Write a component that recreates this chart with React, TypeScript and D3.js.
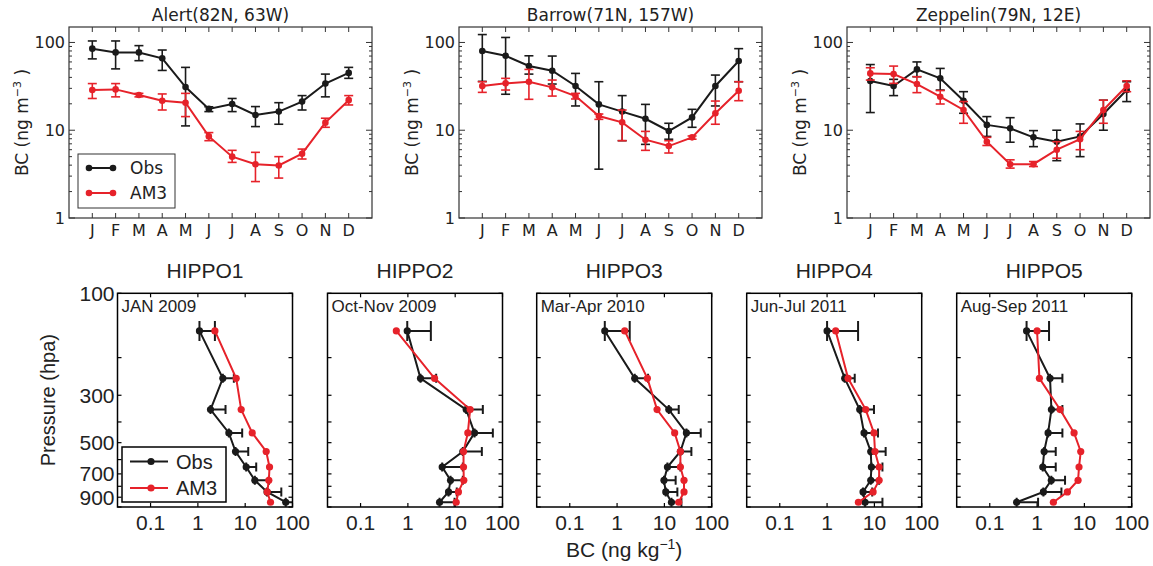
import React, { useEffect, useRef } from "react";
import * as d3 from "d3";

// ---- top row: monthly surface BC (ng m-3) ----
const months = ["J", "F", "M", "A", "M", "J", "J", "A", "S", "O", "N", "D"];

const alertObs = [85, 77, 77, 66, 31, 17.5, 19.9, 14.9, 16.3, 21.2, 34, 45];
const alertObsLo = [65, 50, 62, 48, 11.2, 16.3, 16.3, 11, 11.7, 17, 24, 39];
const alertObsHi = [104, 104, 92, 82, 52, 18.5, 23, 18.6, 20.6, 24.8, 43.6, 52];
const alertAm3 = [28.7, 29.2, 25.2, 21.7, 20.6, 8.5, 5.0, 4.1, 3.97, 5.4, 12.2, 22];
const alertAm3Lo = [23, 24, 24, 17, 14.3, 7.6, 4.3, 2.6, 2.85, 4.7, 10.8, 19.4];
const alertAm3Hi = [34, 34, 26.3, 25.9, 26.3, 9.4, 5.9, 5.6, 5.0, 6.1, 13.7, 24.8];

const barrowObs = [80, 70.5, 54, 47.6, 31.9, 19.7, 16.3, 13.5, 9.8, 14, 31.9, 61.4];
const barrowObsLo = [36, 25.7, 43.6, 33.6, 18.9, 3.6, 7.6, 6.9, 7.9, 10.8, 18.9, 35.7];
const barrowObsHi = [123, 114, 70.5, 70, 44.4, 35.7, 24.8, 19.7, 12, 17.3, 42.5, 85];
const barrowAm3 = [31.9, 34.2, 35.7, 30.8, 24.5, 14.5, 12.3, 7.8, 6.6, 8.3, 15.6, 28.2];
const barrowAm3Lo = [27, 28.7, 22.5, 24.5, 22.7, 13.3, 7.6, 5.9, 5.5, 7.9, 11.7, 21.7];
const barrowAm3Hi = [35.7, 39, 49.3, 37.3, 26.3, 15.3, 17, 9.7, 7.6, 8.6, 21.5, 35.7];

const zeppObs = [36.4, 31.9, 49.3, 39, 21.7, 11.5, 10.5, 8.3, 7.4, 8.5, 15.3, 28.7];
const zeppObsLo = [15.9, 24.8, 40.7, 28.7, 15.6, 8.5, 7.3, 6.5, 4.5, 5.0, 10, 21.2];
const zeppObsHi = [56, 38, 60, 50.6, 27.5, 14.3, 13.9, 9.9, 10, 11.8, 22, 35.7];
const zeppAm3 = [44.4, 43.6, 33.6, 24.1, 17, 7.4, 4.1, 4.1, 6.0, 7.9, 17, 31.9];
const zeppAm3Lo = [37.3, 34.2, 26.8, 19.9, 12, 6.7, 3.7, 3.86, 4.8, 6.0, 12, 27.5];
const zeppAm3Hi = [51.5, 53.8, 40.7, 28.3, 21.2, 8.3, 4.6, 4.4, 7.4, 9.7, 22, 36.6];

const yTopTicks = [1, 10, 100];

// ---- bottom row: HIPPO profiles (ng kg-1) ----
const levels = [150, 250, 350, 450, 550, 650, 750, 850, 950];
const pressureLabels = [100, 300, 500, 700, 900];
const bcTicks = [0.1, 1, 10, 100];

const hippo1Obs = [1.08, 3.37, 1.85, 4.52, 6.25, 10.5, 16, 29, 72];
const hippo1ObsHi = [2.29, 5.76, 3.84, 8.64, 11.6, 17.1, 31.7, 58, 140];
const hippo1Am3 = [2.29, 6.45, 8.23, 14.1, 27.8, 32.7, 31.6, 29.2, 34.3];

const hippo2Obs = [0.97, 1.85, 17.1, 25.6, 14.5, 5.31, 7.97, 7.23, 4.67];
const hippo2ObsHi = [3.06, 3.96, 38.4, 62.5, 36.6, 14.5, 14.5, 10.8, 9.7];
const hippo2Am3 = [0.57, 3.66, 20.7, 18.5, 15, 15, 15.2, 11.7, 10.5];

const hippo3Obs = [0.55, 2.36, 12.4, 29.2, 21.8, 11.6, 9.8, 10.7, 14.1];
const hippo3ObsHi = [1.85, 4.52, 20.1, 58.6, 37.2, 21.8, 17.3, 18.8, 22.9];
const hippo3Am3 = [1.45, 4.37, 7.0, 16.5, 21.8, 21.8, 26, 26, 20.1];

const hippo4Obs = [1.0, 2.36, 4.9, 6.05, 8.37, 8.65, 8.37, 5.76, 6.35];
const hippo4ObsHi = [4.52, 3.84, 9.8, 11.9, 17.3, 14.8, 12.6, 9, 14.8];
const hippo4Am3 = [1.52, 2.78, 6.56, 9.8, 10.3, 12.6, 12.6, 9.4, 4.59];

const hippo5Obs = [0.6, 1.88, 2.01, 1.71, 1.41, 1.32, 2.0, 1.36, 0.37];
const hippo5ObsHi = [1.79, 3.43, 3.43, 3.43, 2.48, 2.48, 3.9, 3.27, 1.05];
const hippo5Am3 = [1.0, 1.12, 3.06, 6.05, 8.37, 7.7, 7.35, 4.37, 2.21];

const BLACK = "#1a1a1a";
const RED = "#e6222a";
const TOP_FONT = "DejaVu Sans, sans-serif";
const BOT_FONT = "Liberation Sans, Arial, Helvetica, sans-serif";

const stations = [
  { title: "Alert(82N, 63W)", obs: alertObs, obsLo: alertObsLo, obsHi: alertObsHi, am3: alertAm3, am3Lo: alertAm3Lo, am3Hi: alertAm3Hi },
  { title: "Barrow(71N, 157W)", obs: barrowObs, obsLo: barrowObsLo, obsHi: barrowObsHi, am3: barrowAm3, am3Lo: barrowAm3Lo, am3Hi: barrowAm3Hi },
  { title: "Zeppelin(79N, 12E)", obs: zeppObs, obsLo: zeppObsLo, obsHi: zeppObsHi, am3: zeppAm3, am3Lo: zeppAm3Lo, am3Hi: zeppAm3Hi },
];

const campaigns = [
  { title: "HIPPO1", period: "JAN 2009", obs: hippo1Obs, obsHi: hippo1ObsHi, am3: hippo1Am3 },
  { title: "HIPPO2", period: "Oct-Nov 2009", obs: hippo2Obs, obsHi: hippo2ObsHi, am3: hippo2Am3 },
  { title: "HIPPO3", period: "Mar-Apr 2010", obs: hippo3Obs, obsHi: hippo3ObsHi, am3: hippo3Am3 },
  { title: "HIPPO4", period: "Jun-Jul 2011", obs: hippo4Obs, obsHi: hippo4ObsHi, am3: hippo4Am3 },
  { title: "HIPPO5", period: "Aug-Sep 2011", obs: hippo5Obs, obsHi: hippo5ObsHi, am3: hippo5Am3 },
];

const W = 1153;
const H = 566;

const App = () => {
  const svgRef = useRef(null);

  useEffect(() => {
    const svg = d3.select(svgRef.current);
    svg.selectAll("*").remove();
    svg.append("rect").attr("width", W).attr("height", H).attr("fill", "white");
    const defs = svg.append("defs");

    // ===== top row =====
    const topLefts = [69, 459, 847];
    const tW = 303;
    const tTop = 27;
    const tBot = 218;

    stations.forEach((st, si) => {
      const left = topLefts[si];
      const g = svg.append("g");
      const x = d3.scaleLinear().domain([0, 13]).range([left, left + tW]);
      const y = d3.scaleLog().domain([1, 150]).range([tBot, tTop]);

      // y ticks (major + minor), both sides
      yTopTicks.forEach((d) => {
        for (let k = 1; k <= 9; k++) {
          const v = d * k;
          if (v > 150) continue;
          const len = k === 1 ? 6 : 3;
          g.append("line").attr("x1", left).attr("x2", left + len)
            .attr("y1", y(v)).attr("y2", y(v)).attr("stroke", "#333").attr("stroke-width", 1);
          g.append("line").attr("x1", left + tW - len).attr("x2", left + tW)
            .attr("y1", y(v)).attr("y2", y(v)).attr("stroke", "#333").attr("stroke-width", 1);
        }
        g.append("text").attr("x", left - 4).attr("y", y(d)).attr("dy", "0.36em")
          .attr("text-anchor", "end").attr("font-family", TOP_FONT).attr("font-size", 16)
          .attr("fill", "#222").text(d);
      });

      // x ticks + month labels
      months.forEach((m, i) => {
        const xx = x(i + 1);
        g.append("line").attr("x1", xx).attr("x2", xx).attr("y1", tBot).attr("y2", tBot - 5)
          .attr("stroke", "#333").attr("stroke-width", 1);
        g.append("line").attr("x1", xx).attr("x2", xx).attr("y1", tTop).attr("y2", tTop + 5)
          .attr("stroke", "#333").attr("stroke-width", 1);
        g.append("text").attr("x", xx).attr("y", 236).attr("text-anchor", "middle")
          .attr("font-family", TOP_FONT).attr("font-size", 16).attr("fill", "#222").text(m);
      });

      g.append("rect").attr("x", left).attr("y", tTop).attr("width", tW).attr("height", tBot - tTop)
        .attr("fill", "none").attr("stroke", "#333").attr("stroke-width", 1.2);

      // title
      g.append("text").attr("x", left + tW / 2).attr("y", 21).attr("text-anchor", "middle")
        .attr("font-family", TOP_FONT).attr("font-size", 17).attr("fill", "#222").text(st.title);

      // y label
      const yl = g.append("text")
        .attr("transform", `translate(${left - 41},${(tTop + tBot) / 2}) rotate(-90)`)
        .attr("text-anchor", "middle").attr("font-family", TOP_FONT).attr("font-size", 17)
        .attr("fill", "#222");
      yl.append("tspan").text("BC (ng m");
      yl.append("tspan").attr("dy", -7).attr("font-size", 11).text("\u22123");
      yl.append("tspan").attr("dy", 7).text(" )");

      const series = [
        { v: st.obs, lo: st.obsLo, hi: st.obsHi, c: BLACK },
        { v: st.am3, lo: st.am3Lo, hi: st.am3Hi, c: RED },
      ];
      series.forEach((s) => {
        const sg = g.append("g");
        s.v.forEach((_, i) => {
          const xx = x(i + 1);
          sg.append("line").attr("x1", xx).attr("x2", xx).attr("y1", y(s.lo[i])).attr("y2", y(s.hi[i]))
            .attr("stroke", s.c).attr("stroke-width", 1.6);
          [s.lo[i], s.hi[i]].forEach((e) => {
            sg.append("line").attr("x1", xx - 4.5).attr("x2", xx + 4.5).attr("y1", y(e)).attr("y2", y(e))
              .attr("stroke", s.c).attr("stroke-width", 1.6);
          });
        });
        const line = d3.line<number>().x((_, i) => x(i + 1)).y((d) => y(d));
        sg.append("path").attr("d", line(s.v)).attr("fill", "none").attr("stroke", s.c).attr("stroke-width", 2);
        sg.selectAll("circle.m").data(s.v).enter().append("circle")
          .attr("cx", (_, i) => x(i + 1)).attr("cy", (d) => y(d)).attr("r", 3.3).attr("fill", s.c);
      });

      if (si === 0) {
        const lg = g.append("g");
        lg.append("rect").attr("x", 78).attr("y", 154).attr("width", 97).attr("height", 54)
          .attr("fill", "white").attr("stroke", "#333").attr("stroke-width", 1);
        [{ n: "Obs", c: BLACK, yy: 168 }, { n: "AM3", c: RED, yy: 193 }].forEach((e) => {
          lg.append("line").attr("x1", 89).attr("x2", 113).attr("y1", e.yy).attr("y2", e.yy)
            .attr("stroke", e.c).attr("stroke-width", 2);
          lg.append("circle").attr("cx", 89).attr("cy", e.yy).attr("r", 3.3).attr("fill", e.c);
          lg.append("circle").attr("cx", 113).attr("cy", e.yy).attr("r", 3.3).attr("fill", e.c);
          lg.append("text").attr("x", 130).attr("y", e.yy).attr("dy", "0.36em")
            .attr("font-family", TOP_FONT).attr("font-size", 17).attr("fill", "#222").text(e.n);
        });
      }
    });

    // ===== bottom row =====
    const botLefts = [117.5, 327.5, 536.7, 746.7, 956.7];
    const bW = 175;
    const bTop = 293.3;
    const bBot = 507;

    campaigns.forEach((cp, ci) => {
      const left = botLefts[ci];
      const g = svg.append("g");
      const x = d3.scaleLog().domain([0.02, 100]).range([left, left + bW]);
      const y = d3.scaleLog().domain([100, 1000]).range([bTop, bBot]);

      const clipId = `clip-${ci}`;
      defs.append("clipPath").attr("id", clipId).append("rect")
        .attr("x", left).attr("y", bTop).attr("width", bW).attr("height", bBot - bTop);

      // pressure ticks every 100 hPa on both sides
      d3.range(100, 1001, 100).forEach((p) => {
        g.append("line").attr("x1", left).attr("x2", left + 4).attr("y1", y(p)).attr("y2", y(p))
          .attr("stroke", "black").attr("stroke-width", 1.2);
        g.append("line").attr("x1", left + bW - 4).attr("x2", left + bW).attr("y1", y(p)).attr("y2", y(p))
          .attr("stroke", "black").attr("stroke-width", 1.2);
      });
      if (ci === 0) {
        pressureLabels.forEach((p) => {
          g.append("text").attr("x", left - 3).attr("y", y(p)).attr("dy", "0.36em")
            .attr("text-anchor", "end").attr("font-family", BOT_FONT).attr("font-size", 21)
            .attr("fill", "#222").text(p);
        });
      }
      bcTicks.forEach((t) => {
        g.append("line").attr("x1", x(t)).attr("x2", x(t)).attr("y1", bBot).attr("y2", bBot - 4)
          .attr("stroke", "black").attr("stroke-width", 1.2);
        g.append("line").attr("x1", x(t)).attr("x2", x(t)).attr("y1", bTop).attr("y2", bTop + 4)
          .attr("stroke", "black").attr("stroke-width", 1.2);
        g.append("text").attr("x", x(t)).attr("y", 530).attr("text-anchor", "middle")
          .attr("font-family", BOT_FONT).attr("font-size", 21).attr("fill", "#222").text(t);
      });

      g.append("text").attr("x", left + bW / 2).attr("y", 278).attr("text-anchor", "middle")
        .attr("font-family", BOT_FONT).attr("font-size", 21).attr("fill", "#222").text(cp.title);
      g.append("text").attr("x", left + 4).attr("y", 312)
        .attr("font-family", BOT_FONT).attr("font-size", 17).attr("fill", "#222").text(cp.period);

      const pg = g.append("g").attr("clip-path", `url(#${clipId})`);
      // obs error bars (upper side only)
      cp.obs.forEach((v, i) => {
        const yy = y(levels[i]);
        const cap = i === 0 ? 10 : 4.5;
        pg.append("line").attr("x1", x(v)).attr("x2", x(cp.obsHi[i])).attr("y1", yy).attr("y2", yy)
          .attr("stroke", BLACK).attr("stroke-width", 2);
        [v, cp.obsHi[i]].forEach((e) => {
          pg.append("line").attr("x1", x(e)).attr("x2", x(e)).attr("y1", yy - cap).attr("y2", yy + cap)
            .attr("stroke", BLACK).attr("stroke-width", 2);
        });
      });
      [
        { v: cp.obs, c: BLACK },
        { v: cp.am3, c: RED },
      ].forEach((s) => {
        const line = d3.line<number>().x((d) => x(d)).y((_, i) => y(levels[i]));
        pg.append("path").attr("d", line(s.v)).attr("fill", "none").attr("stroke", s.c).attr("stroke-width", 2);
        s.v.forEach((d, i) => {
          pg.append("circle").attr("cx", x(d)).attr("cy", y(levels[i])).attr("r", 3.6).attr("fill", s.c);
        });
      });

      g.append("rect").attr("x", left).attr("y", bTop).attr("width", bW).attr("height", bBot - bTop)
        .attr("fill", "none").attr("stroke", "black").attr("stroke-width", 1.5);

      if (ci === 0) {
        const lg = g.append("g");
        lg.append("rect").attr("x", 122).attr("y", 447).attr("width", 104).attr("height", 55)
          .attr("fill", "white").attr("stroke", "black").attr("stroke-width", 1.5);
        [{ n: "Obs", c: BLACK, yy: 461.5 }, { n: "AM3", c: RED, yy: 488 }].forEach((e) => {
          lg.append("line").attr("x1", 130).attr("x2", 168).attr("y1", e.yy).attr("y2", e.yy)
            .attr("stroke", e.c).attr("stroke-width", 2);
          lg.append("circle").attr("cx", 151).attr("cy", e.yy).attr("r", 3.6).attr("fill", e.c);
          lg.append("text").attr("x", 176).attr("y", e.yy).attr("dy", "0.36em")
            .attr("font-family", BOT_FONT).attr("font-size", 20).attr("fill", "#222").text(e.n);
        });
      }
    });

    // shared bottom labels
    const xl = svg.append("text").attr("x", botLefts[2] + bW / 2).attr("y", 557)
      .attr("text-anchor", "middle").attr("font-family", BOT_FONT).attr("font-size", 21).attr("fill", "#222");
    xl.append("tspan").text("BC (ng kg");
    xl.append("tspan").attr("dy", -8).attr("font-size", 14).text("\u22121");
    xl.append("tspan").attr("dy", 8).text(")");

    svg.append("text")
      .attr("transform", `translate(55,${(bTop + bBot) / 2}) rotate(-90)`)
      .attr("text-anchor", "middle").attr("font-family", BOT_FONT).attr("font-size", 20)
      .attr("fill", "#222").text("Pressure (hpa)");
  }, []);

  return (
    <svg
      ref={svgRef}
      width={W}
      height={H}
      style={{ position: "absolute", left: 0, top: 0, display: "block" }}
    ></svg>
  );
};

export default App;
